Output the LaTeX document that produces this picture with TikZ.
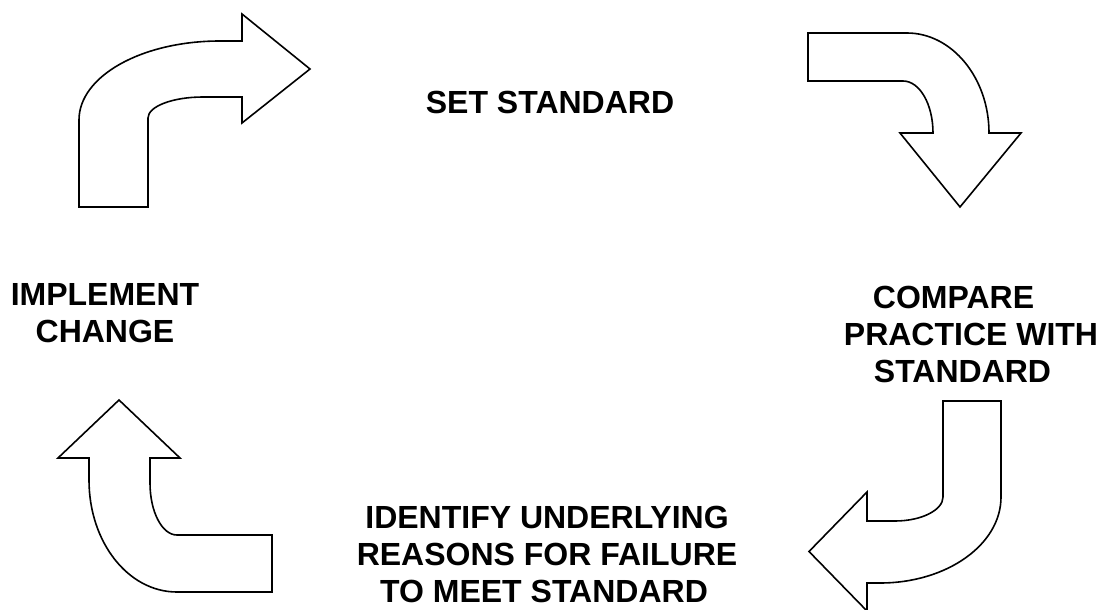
\documentclass[tikz,border=0pt]{standalone}
\usepackage{fontspec}
\setmainfont{Liberation Sans}
\begin{document}
\begin{tikzpicture}[x=1pt,y=-1pt,
  bentarrow/.style={draw=black,line width=1.6pt,line join=miter,fill=white},
  label/.style={font=\bfseries\fontsize{32}{37}\selectfont,align=center,inner sep=0pt,anchor=base}]
\useasboundingbox (0,0) rectangle (1100,610);

% top left: up then right
\draw[bentarrow] (79,207) -- (79,120)
  .. controls (79,76) and (142,41) .. (220,41) -- (242,41) -- (242,14)
  -- (310,69) -- (242,123) -- (242,97) -- (203,97)
  .. controls (172.6,97) and (148,106.4) .. (148,118) -- (148,207) -- cycle;

% top right: right then down
\draw[bentarrow] (808,33) -- (907,33)
  .. controls (952,33) and (989,78) .. (989,133) -- (1021,133)
  -- (960,207) -- (900,133) -- (933,133)
  .. controls (933,104) and (919.5,81) .. (903,81) -- (808,81) -- cycle;

% bottom right: down then left
\draw[bentarrow] (943,401) -- (1001,401) -- (1001,497)
  .. controls (1001,544.5) and (947,583) .. (880,583) -- (867,583)
  -- (867,611) -- (809,551.5) -- (867,492) -- (867,521) -- (895,521)
  .. controls (921.5,521) and (943,510) .. (943,497) -- cycle;

% bottom left: left then up
\draw[bentarrow] (119,400) -- (180,458) -- (150,458) -- (150,483)
  .. controls (150,511.7) and (162,535) .. (177,535) -- (272,535)
  -- (272,592) -- (177,592)
  .. controls (128,592) and (89,542) .. (89,480) -- (89,458) -- (58,458) -- cycle;

% stage labels (base anchor sits on the last line)
\node[label] (set) at (550,113) {SET STANDARD};
\node[label] (impl) at (105,342) {IMPLEMENT\\CHANGE};
\node[label] (comp) at (971,382) {COMPARE\hspace*{35pt}\\PRACTICE WITH\\STANDARD\hspace*{17pt}};
\node[label] (ident) at (547,602) {IDENTIFY UNDERLYING\\REASONS FOR FAILURE\hspace*{-8pt}\\TO MEET STANDARD\hspace*{6pt}};
\end{tikzpicture}
\end{document}
